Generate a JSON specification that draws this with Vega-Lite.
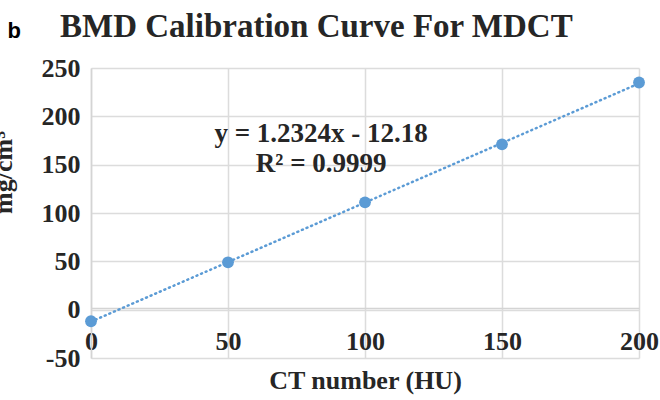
{
  "$schema": "https://vega.github.io/schema/vega-lite/v6.json",
  "width": 548,
  "height": 290,
  "autosize": {"type": "none"},
  "padding": {"left": 91, "top": 68, "right": 21, "bottom": 42},
  "background": "white",
  "title": {
    "text": "BMD Calibration Curve For MDCT",
    "anchor": "start",
    "frame": "group",
    "dx": -31,
    "offset": -24,
    "font": "Liberation Serif",
    "fontSize": 33,
    "fontWeight": "bold",
    "color": "#262626"
  },
  "config": {
    "view": {"stroke": null},
    "axis": {
      "labelFont": "Liberation Serif",
      "labelFontWeight": "bold",
      "labelFontSize": 26,
      "labelColor": "#262626",
      "titleFont": "Liberation Serif",
      "titleFontWeight": "bold",
      "titleFontSize": 26,
      "titleColor": "#262626",
      "gridColor": "#dcdcdc",
      "gridWidth": 1.5,
      "domainColor": "#d4d4d4",
      "domainWidth": 1.5,
      "ticks": false
    }
  },
  "datasets": {
    "pts": [
      {"hu": 0, "bmd": -12},
      {"hu": 50, "bmd": 49},
      {"hu": 100, "bmd": 111},
      {"hu": 150, "bmd": 171},
      {"hu": 200, "bmd": 235}
    ]
  },
  "layer": [
    {
      "data": {"name": "pts"},
      "transform": [{"regression": "bmd", "on": "hu", "extent": [0, 200]}],
      "mark": {"type": "line", "color": "#5B9BD5", "strokeWidth": 2.5, "strokeDash": [1, 4], "strokeCap": "round", "clip": false},
      "encoding": {
        "x": {
          "field": "hu", "type": "quantitative",
          "scale": {"domain": [0, 200], "nice": false},
          "axis": {"values": [0, 50, 100, 150, 200], "offset": -50, "labelPadding": 20, "title": "CT number (HU)", "titlePadding": 13, "labelFlush": false}
        },
        "y": {
          "field": "bmd", "type": "quantitative",
          "scale": {"domain": [-50, 250], "nice": false, "zero": false},
          "axis": {"values": [-50, 0, 50, 100, 150, 200, 250], "labelExpr": "replace(datum.label, '−', '-')", "labelPadding": 11, "title": "mg/cm³", "titleAngle": -90, "titleX": -80, "titleY": 104, "titleAlign": "center", "titleBaseline": "alphabetic", "labelFlush": false}
        }
      }
    },
    {
      "data": {"name": "pts"},
      "mark": {"type": "point", "filled": true, "opacity": 1, "color": "#5B9BD5", "size": 140, "clip": false},
      "encoding": {
        "x": {"field": "hu", "type": "quantitative"},
        "y": {"field": "bmd", "type": "quantitative"}
      }
    },
    {
      "data": {"values": [{"t": "y = 1.2324x - 12.18"}]},
      "mark": {"type": "text", "font": "Liberation Serif", "fontWeight": "bold", "fontSize": 27, "color": "#262626", "baseline": "middle"},
      "encoding": {
        "x": {"datum": 84},
        "y": {"datum": 182},
        "text": {"field": "t"}
      }
    },
    {
      "data": {"values": [{"t": "R² = 0.9999"}]},
      "mark": {"type": "text", "font": "Liberation Serif", "fontWeight": "bold", "fontSize": 27, "color": "#262626", "baseline": "middle"},
      "encoding": {
        "x": {"datum": 84},
        "y": {"datum": 151},
        "text": {"field": "t"}
      }
    },
    {
      "data": {"values": [{"t": "b"}]},
      "mark": {"type": "text", "font": "Liberation Sans", "fontWeight": "bold", "fontSize": 22, "color": "#000000", "baseline": "middle"},
      "encoding": {
        "x": {"datum": -28},
        "y": {"datum": 288},
        "text": {"field": "t"}
      }
    }
  ]
}
